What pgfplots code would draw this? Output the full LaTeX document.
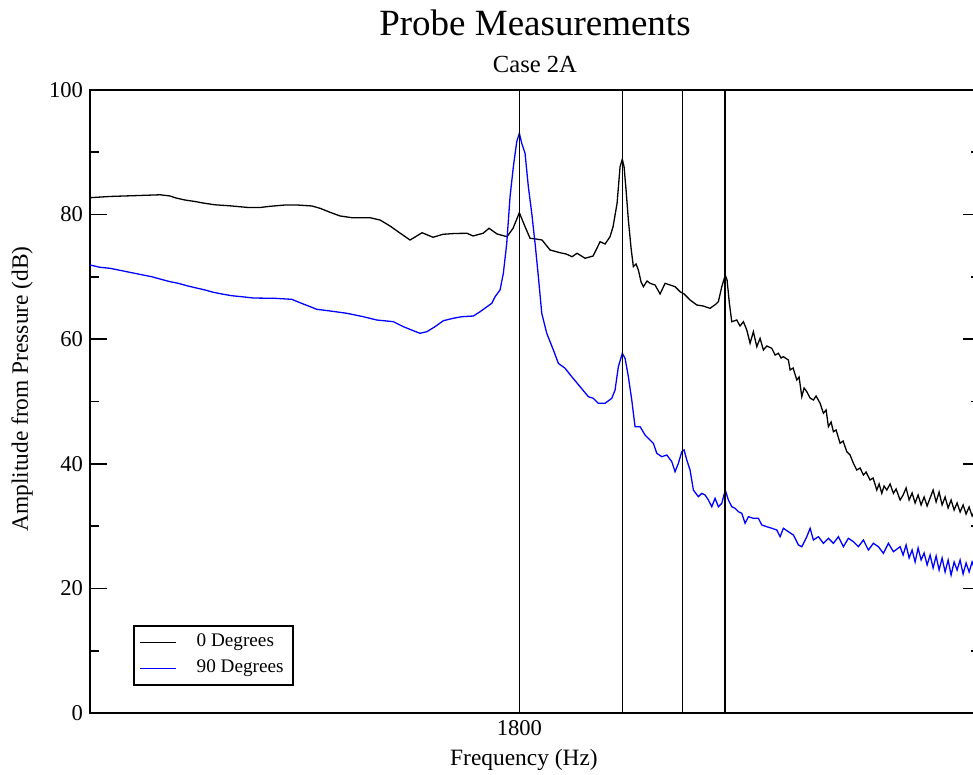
\documentclass[border=0pt]{standalone}
\usepackage{fontspec}
\setmainfont{Liberation Serif}
\usepackage{pgfplots}
\pgfplotsset{compat=1.18}
\definecolor{gblue}{RGB}{0,0,255}
\begin{document}
\begin{tikzpicture}
\begin{axis}[
  at={(0,0)}, anchor=south west,
  scale only axis, width=445pt, height=311.5pt,
  xmode=log, xmin=100, xmax=40000, ymin=0, ymax=100,
  xtick={1800}, xticklabels={1800}, minor xtick={}, xtick pos=bottom, xtick style={draw=none},
  ytick={0,20,40,60,80,100}, minor ytick={10,30,50,70,90}, ytick pos=both, yticklabel pos=left,
  tick align=inside, major tick length=8.5pt, minor tick length=4.5pt,
  every tick/.style={line width=0.8pt, black},
  axis line style={line width=1pt},
  ticklabel style={font=\fontsize{11.3}{13}\selectfont},
  /pgf/number format/assume math mode=true,
  xlabel={Frequency (Hz)}, ylabel={Amplitude from Pressure (dB)},
  label style={font=\fontsize{11.7}{14}\selectfont},
  xlabel style={at={(axis description cs:0.4876,-0.0745)}, anchor=center},
  ylabel style={at={(axis description cs:-0.0764,0.52)}, anchor=center},
  legend cell align=left,
  legend style={at={(axis description cs:0.048,0.044)}, anchor=south west, draw=black, line width=1pt,
    font=\fontsize{9.6}{12}\selectfont, inner xsep=3pt, inner ysep=1.5pt,
    nodes={inner sep=1.8pt, text height=7pt, text depth=2.5pt}},
  legend image code/.code={\draw[#1, line width=0.7pt] (0pt,0pt) -- (18pt,0pt); \path (26pt,0pt);},
]
\addplot[black, line width=0.65pt] table {
f db
100 82.71
114.41 82.91
140.02 83.07
160.21 83.18
171.37 82.99
178.43 82.66
189.58 82.34
202.78 82.10
214.00 81.86
232.01 81.57
256.66 81.41
289.73 81.14
314.11 81.14
335.99 81.33
371.69 81.54
402.97 81.54
445.79 81.38
470.46 81.01
503.23 80.37
538.28 79.78
583.57 79.50
658.76 79.50
704.64 79.13
753.71 78.17
795.42 77.26
862.35 75.92
891.87 76.40
934.91 77.09
1006.78 76.36
1076.90 76.84
1167.52 76.97
1265.77 77.00
1317.94 76.57
1409.73 77.00
1467.84 77.80
1549.08 76.89
1656.98 76.45
1725.27 77.80
1800 80.30
1870.45 78.06
1934.51 76.20
2014.25 76.08
2097.28 75.92
2213.35 74.32
2367.49 73.88
2465.08 73.68
2566.74 73.24
2654.61 73.79
2801.49 72.99
2956.51 73.35
3037.21 74.64
3099.18 75.65
3205.28 75.28
3315.04 76.45
3382.68 78.06
3475.01 81.81
3545.91 87.69
3600 88.88
3642.70 87.69
3692.08 83.95
3749.69 79.13
3818.49 74.64
3878.10 71.64
3949.22 72.07
4010.85 71.11
4084.46 69.18
4148.21 68.43
4252.83 69.34
4339.59 68.97
4488.16 68.70
4641.85 67.26
4800.77 68.97
4965.12 68.70
5135.10 68.43
5310.92 67.62
5455.89 67.26
5680.8 66.29
5942.9 65.49
6200.5 65.33
6499.6 64.96
6767.5 65.65
6873.1 66.02
7032.3 68.43
7200 70.30
7287.8 69.50
7401.5 65.76
7522.2 62.81
7779.7 63.08
7954.5 62.12
8133.2 62.81
8321.5 61.48
8508.5 59.34
8699.7 61.20
8901.1 58.80
9101.0 60.14
9305.5 58.27
9520.9 58.91
9847.0 58.54
10068.3 57.46
10294.5 57.74
10483.2 56.98
10646.9 57.19
11011.3 56.66
11138.1 55.06
11365.4 55.38
11652.0 53.45
11833.8 53.93
12050.9 50.77
12239.0 52.17
12463.5 51.57
12743.6 50.56
13029.9 50.24
13268.9 50.88
13631.1 49.71
13937.4 48.11
14193.0 48.64
14414.5 45.96
14679.0 46.71
14908.1 45.15
15181.5 45.43
15596.0 43.29
15914.2 43.66
16315.6 41.94
16682.1 41.41
17056.9 40.08
17451.8 39.00
17844.0 39.33
18245.0 38.20
18579.6 38.68
19086.8 37.40
19476.2 37.72
19967.5 35.79
20279.1 36.76
20651.1 35.26
20973.4 36.44
21358.1 35.79
21838 36.76
22328.7 35.26
22738.2 35.96
23359 34.19
23835.6 34.99
24321.9 36.12
24818.1 34.19
25324.7 35.31
25841.4 33.71
26368.7 34.99
26906.5 33.39
27455.5 34.67
28015.7 33.23
28588 34.51
29171.3 35.79
29766.5 33.87
30373.8 35.47
30993.5 33.39
31625.9 34.67
32271.2 32.91
32928.9 34.19
33600.8 32.58
34286.3 33.71
34986 32.26
35699.8 33.39
36428.2 31.94
37171.4 33.07
37930.3 31.62
38704.2 32.58
39760.7 31.94
};
\addlegendentry{0 Degrees}
\addplot[gblue, line width=0.65pt] table {
f db
100 71.91
106.97 71.54
114.41 71.38
123.79 71.00
132.42 70.67
143.17 70.30
151.50 70.03
160.21 69.66
171.37 69.23
181.22 68.97
191.76 68.59
202.78 68.27
216.90 67.90
229.37 67.53
242.71 67.26
259.61 66.98
277.70 66.82
300.26 66.61
347.49 66.56
388.84 66.40
411.19 65.86
460.12 64.80
503.23 64.53
563.12 64.16
629.70 63.61
689.16 63.08
770.65 62.81
824.32 62.01
881.73 61.36
922.41 60.95
964.97 61.20
1020.43 62.01
1079.08 62.97
1154.24 63.36
1221.40 63.61
1320.61 63.72
1381.54 64.41
1494.78 65.76
1528.36 66.82
1580.70 67.90
1616.22 70.58
1653.63 75.39
1690.77 82.87
1728.76 87.69
1768.78 91.70
1800 93.05
1829.35 91.44
1870.45 89.84
1912.47 84.48
1956.78 80.21
2000.74 75.39
2045.69 70.03
2093.05 64.16
2164.70 60.95
2263.08 58.27
2340.55 56.13
2448.54 55.33
2561.56 53.98
2708.75 52.38
2864.42 50.77
2962.49 50.51
3063.90 49.71
3205.28 49.71
3353.20 50.51
3428.53 51.85
3505.56 55.59
3600 57.74
3667.31 56.93
3749.69 53.98
3836.53 50.24
3922.72 45.96
4057.05 45.96
4195.95 44.62
4437.10 43.29
4539.82 41.69
4695.28 41.14
4856.03 41.41
5022.27 40.34
5135.10 38.73
5250.47 40.08
5372.05 41.94
5455.89 42.22
5555.97 40.61
5680.8 39.00
5808.4 35.79
6007.3 34.72
6146.4 35.26
6284.5 34.99
6425.7 34.19
6574.4 33.11
6722.1 34.46
6873.1 33.11
7032.3 33.66
7200 35.79
7351.8 34.19
7522.2 33.11
7691.2 32.86
7864.0 32.31
8046.1 32.05
8226.8 30.45
8411.6 31.51
8699.7 31.25
8997.5 31.25
9205.8 30.18
9520.9 29.90
9847.0 29.65
10184.2 29.37
10412.9 28.30
10646.9 29.65
11011.3 29.10
11388.4 28.57
11778.2 26.97
12050.9 26.69
12463.5 28.30
12743.6 29.65
13029.9 27.77
13476.0 28.30
13937.4 27.24
14414.5 28.04
14908.1 27.24
15418.4 28.30
15946.4 26.69
16492.3 28.04
17056.9 27.50
17640.8 26.69
18245.0 27.77
18869.5 26.16
19515.7 27.24
20183.7 26.69
20874.9 25.63
21589.4 27.24
22328.7 25.89
23359 26.69
23835.6 25.36
24321.9 26.97
24818.1 24.88
25324.7 26.16
25841.4 24.24
26368.7 26.48
26906.5 24.56
27455.5 25.68
28015.7 23.76
28588 25.36
29171.3 23.27
29766.5 25.20
30373.8 22.95
30993.5 24.88
31625.9 22.63
32271.2 24.56
32928.9 22.15
33600.8 24.24
34286.3 22.95
34986 24.56
35699.8 22.31
36428.2 24.08
37171.4 22.63
37930.3 24.24
38704.2 22.95
39760.7 23.76
};
\addlegendentry{90 Degrees}
\addplot[black, line width=0.8pt, forget plot] coordinates {(1800,0) (1800,100)};
\addplot[black, line width=0.8pt, forget plot] coordinates {(3600,0) (3600,100)};
\addplot[black, line width=0.8pt, forget plot] coordinates {(5400,0) (5400,100)};
\addplot[black, line width=0.8pt, forget plot] coordinates {(7200,0) (7200,100)};
\end{axis}
\node[anchor=base, font=\fontsize{18.5}{22}\selectfont] at (222.5pt,338.5pt) {Probe Measurements};
\node[anchor=base, font=\fontsize{12.3}{15}\selectfont] at (222.5pt,320pt) {Case 2A};
\pgfresetboundingbox
\useasboundingbox (-45pt,-31pt) rectangle (441.5pt,356.5pt);
\end{tikzpicture}
\end{document}
